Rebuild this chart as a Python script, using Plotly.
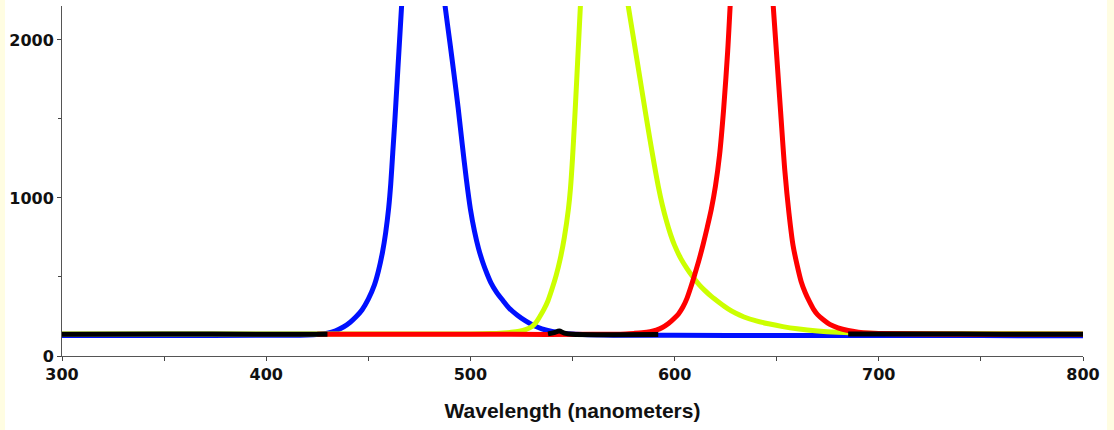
import plotly.graph_objects as go

# ---- data ----
blue_wl = [300, 350, 400, 420, 426, 430, 434, 438, 441, 444, 447, 450, 453, 455, 457, 458.5, 460, 461,
           462, 463, 464, 465, 466.3, 468, 472, 477, 482, 485.5, 487.6, 490, 492, 494, 496, 498, 500,
           502, 504, 506, 508, 510, 513, 516, 519, 523, 527, 531, 535, 540, 546, 555, 570, 600, 650,
           700, 750, 800]
blue_val = [130, 130, 131, 133, 138, 145, 160, 185, 212, 248, 293, 360, 450, 540, 660, 780, 940, 1090,
            1290, 1490, 1710, 1930, 2215, 2600, 3000, 3150, 2900, 2450, 2215, 1980, 1780, 1570, 1340, 1120, 930,
            790, 680, 595, 525, 465, 400, 350, 302, 258, 222, 193, 172, 155, 143, 136, 132, 131, 130,
            129, 129, 128]

green_wl = [300, 400, 500, 510, 516, 520, 524, 527, 530, 532, 534, 536, 538, 540, 542, 544, 546, 548,
            549, 550, 551, 552, 553, 554, 556, 560, 565, 570, 574, 577.3, 580, 582, 584, 586, 588, 590,
            592, 594, 596, 598, 600, 603, 606, 609, 612, 615, 618, 622, 626, 630, 634, 640, 646, 653,
            660, 670, 680, 690, 700, 750, 800]
green_val = [140, 140, 140, 142, 146, 150, 157, 167, 185, 210, 250, 295, 350, 425, 510, 615, 750, 930,
             1060, 1250, 1480, 1730, 1990, 2250, 2700, 3050, 3150, 3000, 2500, 2215, 2000, 1840, 1680, 1520, 1365, 1215,
             1075, 955, 855, 770, 700, 618, 555, 500, 452, 412, 377, 337, 300, 270, 247, 222, 204, 186,
             172, 158, 150, 146, 143, 141, 140]

red_wl = [425, 470, 520, 560, 570, 576, 580, 584, 588, 591, 594, 597, 600, 602, 604, 606, 608, 610,
          612, 614, 616, 618, 620, 622, 624, 626, 628, 631, 637, 643, 646.5, 648.3, 650, 652, 654, 656,
          658, 660, 662, 664, 666, 668, 670, 673, 676, 680, 685, 690, 695, 700, 750, 800]
red_val = [137, 138, 137, 137, 138, 140, 143, 147, 154, 164, 180, 205, 240, 268, 308, 363, 438, 522,
           610, 708, 815, 930, 1075, 1270, 1560, 1930, 2390, 2850, 3100, 2950, 2550, 2215, 1900, 1530, 1170, 905,
           700, 575, 470, 400, 345, 297, 262, 228, 200, 178, 161, 151, 145, 142, 138, 137]

black_wl = [300, 350, 400, 430, None, 538, 541, 543.5, 546, 550, 570, 592, None, 685, 720, 760, 800]
black_val = [138, 139, 138, 138, None, 140, 148, 158, 145, 137, 135, 136, None, 139, 139, 138, 138]

x_tick_vals = [300, 400, 500, 600, 700, 800]
y_tick_vals = [0, 1000, 2000]
x_title = "Wavelength (nanometers)"

series = [
    (blue_wl, blue_val, "#0010FF"),
    (green_wl, green_val, "#CCFF00"),
    (red_wl, red_val, "#FF0000"),
    (black_wl, black_val, "#000000"),
]

fig = go.Figure()
for wl, val, col in series:
    fig.add_trace(go.Scatter(
        x=wl, y=val, mode="lines", connectgaps=False,
        line=dict(color=col, width=5, shape="spline", smoothing=0.8),
        showlegend=False, hoverinfo="skip",
    ))

tick_font = dict(family="DejaVu Sans", size=16, color="#111111", weight="bold")

fig.update_layout(
    width=1114, height=430,
    margin=dict(l=62, r=31, t=6, b=74),
    paper_bgcolor="white",
    plot_bgcolor="white",
    xaxis=dict(
        range=[300, 800], tickvals=x_tick_vals, ticks="outside", ticklen=4,
        tickcolor="#444", showline=True, linecolor="#555", linewidth=1,
        showgrid=False, zeroline=False, tickfont=tick_font,
        minor=dict(dtick=50, ticks="outside", ticklen=4, tickcolor="#444", showgrid=False),
        title=dict(text=x_title, standoff=20,
                   font=dict(family="Liberation Sans, Arial", size=21, color="#111111", weight="bold")),
    ),
    xaxis2=dict(
        overlaying="x", matches="x", anchor="y", side="bottom",
        tickvals=x_tick_vals, ticks="inside", ticklen=3, tickcolor="#444",
        showticklabels=False, showline=False, showgrid=False, zeroline=False,
        minor=dict(dtick=50, ticks="inside", ticklen=3, tickcolor="#444", showgrid=False),
    ),
    yaxis=dict(
        range=[0, 2215], tickvals=y_tick_vals, ticks="outside", ticklen=4,
        tickcolor="#444", showline=True, linecolor="#555", linewidth=1,
        showgrid=False, zeroline=False, tickfont=tick_font,
        minor=dict(dtick=500, ticks="outside", ticklen=3, tickcolor="#444", showgrid=False),
    ),
    shapes=[
        dict(type="rect", xref="paper", yref="paper", x0=-62/1021, x1=-57/1021, y0=-74/350, y1=356/350,
             fillcolor="#FFFDE2", line=dict(width=0), layer="below"),
        dict(type="rect", xref="paper", yref="paper", x0=(1107-62)/1021, x1=(1114-62)/1021,
             y0=-74/350, y1=356/350, fillcolor="#FFFDE2", line=dict(width=0), layer="below"),
    ],
)

fig.write_html("out.html", config={"displayModeBar": False},
               post_script="document.body.style.margin='0px';")
